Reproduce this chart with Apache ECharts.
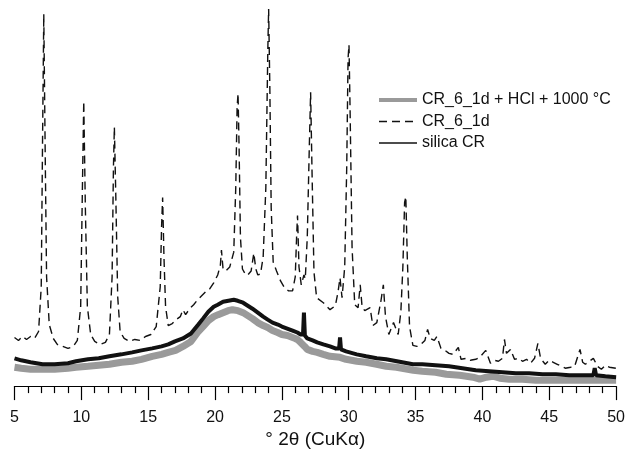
<!DOCTYPE html>
<html>
<head>
<meta charset="utf-8">
<script src="https://cdn.jsdelivr.net/npm/echarts@6/dist/echarts.min.js"></script>
<style>
html,body{margin:0;padding:0;background:#fff;}
#c{width:628px;height:454px;}
</style>
</head>
<body>
<div id="c"></div>
<script>
const seriesNames = ['CR_6_1d + HCl + 1000 °C', 'CR_6_1d', 'silica CR'];
const xTicks = [5, 10, 15, 20, 25, 30, 35, 40, 45, 50];

// CR_6_1d + HCl + 1000 °C (grey)
const heatedX = [5.0,5.5,6.2,7.1,8.0,9.0,9.6,10.5,11.3,12.1,13.0,13.8,14.5,15.3,16.0,16.5,17.05,17.6,18.2,18.75,19.1,19.5,19.9,20.23,20.6,20.97,21.3,21.71,22.1,22.45,22.8,23.19,23.6,23.94,24.3,24.68,25.0,25.42,25.8,26.0,26.16,26.4,26.7,26.9,27.3,27.64,28.1,28.6,29.35,29.8,30.61,31.3,32.09,32.8,33.57,34.83,35.5,36.5,37.3,38.3,39.3,39.8,40.3,40.8,41.3,42.0,43.0,44.0,45.0,46.0,47.0,48.0,49.0,50.0];
const heatedY = [19,18,17,17,17,18,19,20,21,22,24,25,27,30,32,34,36,40,45,55,60,66,70,72,74,76,77,76,74,71,68,64,61,59,56,54,52,51,49,48,47,44,40,37,35,34,32,30,29,27,25,24,22,20,19,16,15,14,12,11,9,7,9,10,8,7,7,6,6,6,6,6,6,6];

// CR_6_1d (dashed)
const crX = [5.0,5.3,5.6,5.9,6.2,6.5,6.8,7.0,7.1,7.19,7.3,7.4,7.6,7.9,8.2,8.6,9.0,9.4,9.7,9.95,10.08,10.18,10.3,10.45,10.7,11.0,11.4,11.8,12.1,12.3,12.4,12.47,12.58,12.72,12.9,13.2,13.6,14.0,14.4,14.8,15.2,15.6,15.9,16.0,16.08,16.18,16.3,16.5,16.8,17.1,17.4,17.6,17.8,18.1,18.4,18.7,19.0,19.3,19.6,19.9,20.2,20.4,20.48,20.6,20.8,21.1,21.4,21.55,21.65,21.72,21.8,21.9,22.05,22.3,22.45,22.7,22.9,23.05,23.2,23.4,23.6,23.8,23.95,24.01,24.1,24.2,24.35,24.6,24.9,25.2,25.5,25.8,26.0,26.1,26.17,26.28,26.45,26.65,26.75,26.9,27.05,27.15,27.25,27.4,27.6,28.1,28.6,29.0,29.2,29.35,29.5,29.7,29.85,29.95,30.02,30.1,30.25,30.45,30.7,30.86,31.0,31.2,31.6,31.8,32.1,32.4,32.59,32.75,33.0,33.35,33.7,33.9,34.05,34.18,34.27,34.38,34.55,34.8,35.1,35.4,35.7,35.9,36.1,36.4,36.6,36.9,37.2,37.5,37.8,38.2,38.4,38.8,39.1,39.5,39.8,40.25,40.6,40.9,41.2,41.5,41.65,41.8,42.1,42.4,42.7,43.0,43.3,43.6,43.9,44.15,44.35,44.7,45.0,45.3,45.6,45.9,46.2,46.6,46.9,47.3,47.5,47.7,48.0,48.3,48.6,48.9,49.2,49.5,50.0];
const crY = [49,46,50,47,50,48,55,100,250,375,230,110,62,48,42,40,38,40,46,80,200,287,180,80,52,45,42,44,52,110,220,261,190,90,55,48,45,47,46,50,52,60,100,160,190,130,80,61,63,67,70,77,72,78,82,87,91,95,98,104,112,122,137,118,116,120,135,200,280,295,240,150,118,112,112,116,134,118,112,113,130,200,340,380,300,180,125,116,106,99,96,96,110,150,172,120,102,112,108,150,240,296,220,115,89,84,77,81,95,109,89,120,220,330,344,280,140,82,79,102,80,76,79,61,64,85,102,70,52,64,52,75,120,185,191,130,60,41,40,42,46,57,48,46,50,38,36,33,32,39,27,28,26,27,29,36,23,26,25,28,47,33,37,27,28,25,27,23,28,43,28,22,26,24,22,20,18,19,20,37,24,22,25,28,20,17,21,19,18];

// silica CR (black)
const silicaX = [5.0,5.5,6.2,7.1,8.0,9.0,9.6,10.5,11.3,12.1,13.0,13.8,14.5,15.3,16.0,16.5,17.0,17.6,18.2,18.75,19.1,19.5,19.9,20.2,20.6,21.0,21.4,21.7,22.1,22.45,22.8,23.2,23.6,23.94,24.3,24.7,25.0,25.4,25.8,26.16,26.4,26.58,26.65,26.72,26.9,27.3,27.64,28.1,28.6,29.0,29.28,29.35,29.42,29.8,30.6,31.3,32.1,32.8,33.6,34.8,35.5,36.5,37.5,38.5,39.5,40.5,41.5,42.5,43.5,44.5,45.5,46.5,47.5,48.3,48.4,48.5,49.2,50.0];
const silicaY = [28,26,24,22,22,23,25,27,28,30,32,34,36,38,40,42,45,48,53,62,68,75,80,82,85,86,87,86,84,81,78,74,70,67,64,62,60,58,56,54,52,52,74,51,48,46,44,42,40,38,38,49,37,35,32,30,28,27,25,22,22,21,20,18,16,15,14,13,13,12,12,11,11,11,18,11,10,9];

function zip(xs, ys){ return xs.map((x,i)=>[x, ys[i]]); }

const FONT = '"Liberation Sans", Arial, Helvetica, sans-serif';
const chart = echarts.init(document.getElementById('c'), null, {renderer:'canvas'});
chart.setOption({
  animation: false,
  backgroundColor: '#fff',
  textStyle: {fontFamily: FONT},
  grid: {left: 14.5, right: 7.3, top: 8, bottom: 65, containLabel: false},
  legend: {
    orient: 'vertical',
    left: 377, top: 92,
    padding: 0,
    itemWidth: 38, itemHeight: 14, itemGap: 5.5,
    textStyle: {fontSize: 16, color: '#111', fontFamily: FONT},
    itemStyle: {color: 'rgba(0,0,0,0)', borderColor: 'rgba(0,0,0,0)', borderWidth: 0},
    data: [
      {name: seriesNames[0], lineStyle: {width: 4}},
      {name: seriesNames[1], lineStyle: {width: 1.4}},
      {name: seriesNames[2], lineStyle: {width: 1.6}}
    ]
  },
  xAxis: {
    type: 'value', min: 5, max: 50, interval: 5,
    name: '° 2θ (CuKα)', nameLocation: 'middle', nameGap: 42,
    nameTextStyle: {fontSize: 19, color: '#111', fontFamily: FONT},
    axisLine: {onZero: false, lineStyle: {color: '#000', width: 1.2}},
    axisTick: {show: true, length: 14, lineStyle: {color: '#000', width: 1.2}},
    minorTick: {show: true, splitNumber: 5, length: 7, lineStyle: {color: '#000', width: 1.2}},
    axisLabel: {margin: 23, fontSize: 16, color: '#111', fontFamily: FONT,
      formatter: v => xTicks.includes(v) ? String(v) : ''},
    splitLine: {show: false}
  },
  yAxis: {type: 'value', min: 0, max: 381, show: false, splitLine: {show: false}},
  series: [
    {name: seriesNames[0], type: 'line', data: zip(heatedX, heatedY), showSymbol: false, symbol: 'none',
      lineStyle: {color: '#9a9a9a', width: 7}, itemStyle: {color: '#9a9a9a'}, z: 2},
    {name: seriesNames[1], type: 'line', data: zip(crX, crY), showSymbol: false, symbol: 'none',
      lineStyle: {color: '#111', width: 1.4, type: [8, 5]}, itemStyle: {color: '#111'}, z: 3},
    {name: seriesNames[2], type: 'line', data: zip(silicaX, silicaY), showSymbol: false, symbol: 'none',
      lineStyle: {color: '#111', width: 4}, itemStyle: {color: '#111'}, z: 4}
  ]
});
</script>
</body>
</html>
